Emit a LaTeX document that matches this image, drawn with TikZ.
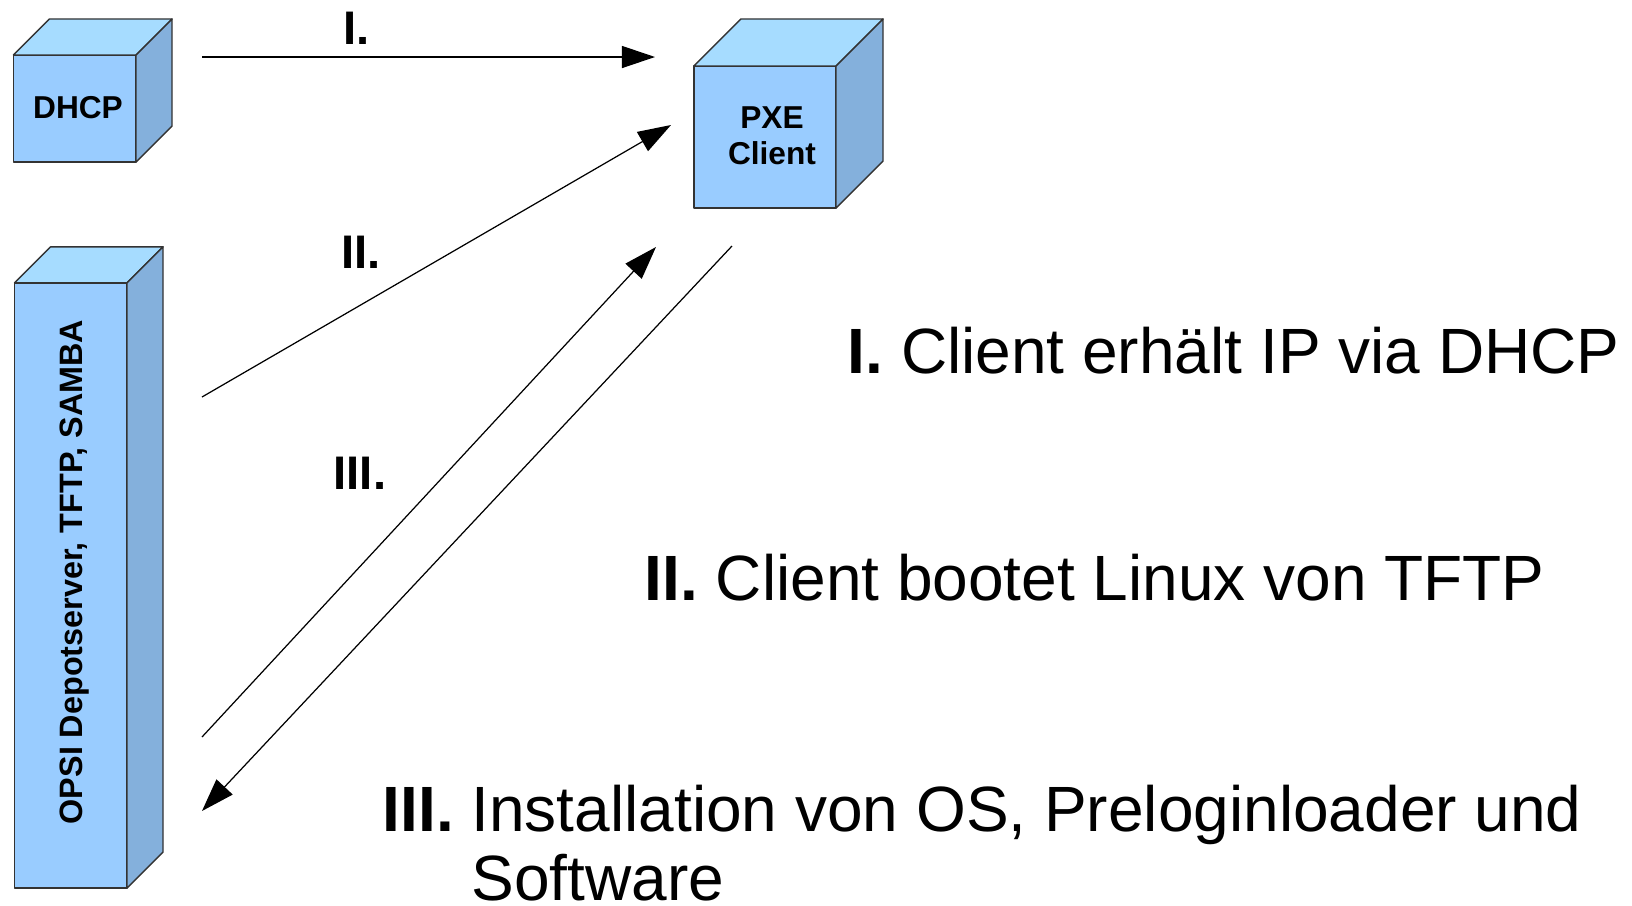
\documentclass[tikz,border=0pt]{standalone}
\usepackage{fontspec}
\setmainfont{Liberation Sans}
\usetikzlibrary{arrows.meta}
\definecolor{cubefront}{HTML}{99CCFF}
\definecolor{cubetop}{HTML}{A6DCFF}
\definecolor{cubeside}{HTML}{84B0DC}
\definecolor{cubeline}{HTML}{333333}
\tikzset{
  face/.style={draw=cubeline, line width=0.4pt, line join=round},
  front/.style={face, fill=cubefront, inner sep=0pt, outer sep=0pt},
  boxtext/.style={inner sep=0pt, align=center, font=\fontsize{9}{10.1}\selectfont\bfseries},
  flow/.style={line width=0.35pt, -{Triangle[length=0.33cm, width=0.22cm]}},
  numlabel/.style={anchor=base west, inner sep=0pt, font=\fontsize{13.4}{15}\selectfont\bfseries},
  legend/.style={anchor=base west, inner sep=0pt, font=\fontsize{18.2}{19.5}\selectfont},
}
\begin{document}
\begin{tikzpicture}[x=0.01cm, y=-0.01cm]
  \useasboundingbox (0,0) rectangle (1632,905);
  % front faces
  \node[front, minimum width=1.225cm, minimum height=1.07cm] (dhcp) at (74.75,108.5) {};
  \node[front, minimum width=1.42cm, minimum height=1.42cm] (pxe) at (765,137) {};
  \node[front, minimum width=1.124cm, minimum height=6.05cm] (opsi) at (70.8,585.5) {};
  % top and right side of each box
  \foreach \n/\d in {dhcp/36, pxe/47, opsi/36} {
    \draw[face, fill=cubetop] (\n.north west) -- ([shift={(\d,-\d)}]\n.north west)
      -- ([shift={(\d,-\d)}]\n.north east) -- (\n.north east) -- cycle;
    \draw[face, fill=cubeside] (\n.north east) -- ([shift={(\d,-\d)}]\n.north east)
      -- ([shift={(\d,-\d)}]\n.south east) -- (\n.south east) -- cycle;
  }
  \node[boxtext] (dhcptext) at (78,107.5) {DHCP};
  \node[boxtext] (pxetext) at (772,135.5) {PXE\\Client};
  \node[boxtext, rotate=90, font=\fontsize{9.2}{10.3}\selectfont\bfseries] (opsitext) at (75,572) {OPSI Depotserver, TFTP, SAMBA};
  % arrow ends
  \coordinate (dhcpout) at (202,57);
  \coordinate (pxein1) at (655,57);
  \coordinate (tftpout) at (202,397);
  \coordinate (pxein2) at (671,125);
  \coordinate (sambaout) at (202,737);
  \coordinate (pxein3) at (656,247);
  \coordinate (pxeout) at (732,246);
  \coordinate (sambain) at (202,811);
  \draw[flow] (dhcpout) -- (pxein1);
  \draw[flow] (tftpout) -- (pxein2);
  \draw[flow] (sambaout) -- (pxein3);
  \draw[flow] (pxeout) -- (sambain);
  \node[numlabel] (l1) at (342.7,44.3) {I.};
  \node[numlabel] (l2) at (340.5,268.5) {II.};
  \node[numlabel] (l3) at (333,489) {III.};
  % legend
  \node[legend] (t1) at (847,373.6) {\textbf{I.} Client erhält IP via DHCP};
  \node[legend] (t2) at (644,600.5) {\textbf{II.} Client bootet Linux von TFTP};
  \node[legend] (t3) at (382,831.6) {\begin{tabular}[t]{@{}l@{ }l@{}}\textbf{III.} & Installation von OS, Preloginloader und\\ & Software\end{tabular}};
\end{tikzpicture}
\end{document}
